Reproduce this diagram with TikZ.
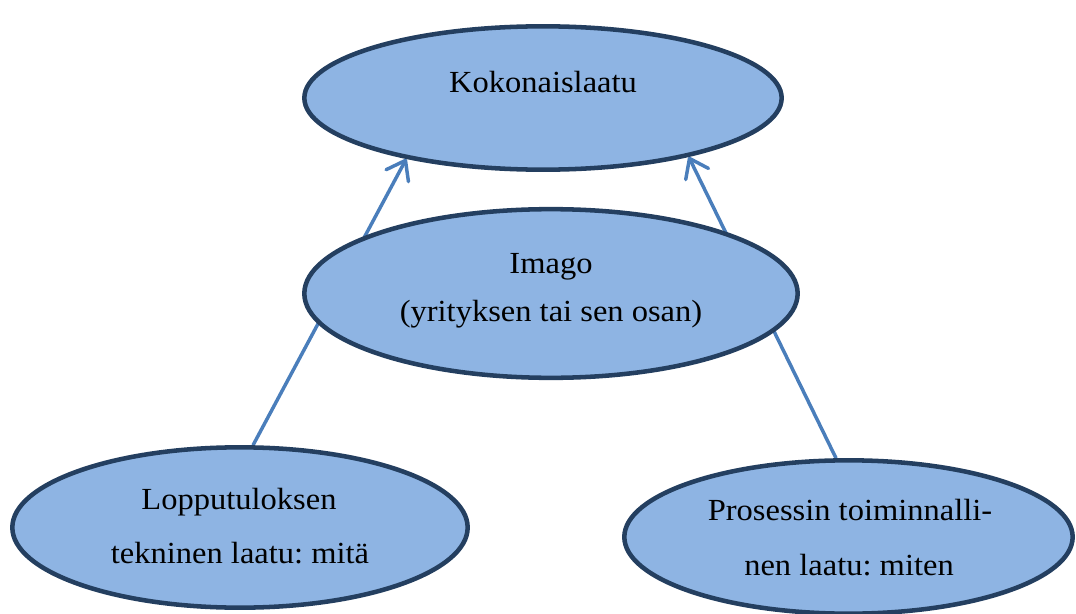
\documentclass[tikz,border=0pt]{standalone}
\usepackage{fontspec}
\setmainfont{Liberation Serif}
\newfontfamily\tnr[FakeStretch=1.06]{Liberation Serif}
\usetikzlibrary{shapes.geometric,arrows.meta}
\definecolor{ovalfill}{HTML}{8EB4E3}
\definecolor{ovalline}{HTML}{243F60}
\definecolor{conn}{HTML}{4A7EBB}
\pgfdeclarelayer{bg}
\pgfsetlayers{bg,main}
\frenchspacing
\begin{document}
\begin{tikzpicture}[x=0.75pt,y=-0.75pt,
  oval/.style={ellipse,draw=ovalline,fill=ovalfill,line width=3.4pt,inner sep=0pt},
  txt/.style={anchor=base,inner sep=0pt,font=\tnr\fontsize{23pt}{27pt}\selectfont},
  conarrow/.style={draw=conn,line width=2.6pt,-{Straight Barb[round,length=13pt,width=19pt]}}]
\useasboundingbox (0,0) rectangle (1076,614);
\node[oval,minimum width=358pt,minimum height=107.5pt] (K) at (543,98) {};
\node[oval,minimum width=370pt,minimum height=126.5pt] (I) at (551,293.5) {};
\node[oval,minimum width=341.5pt,minimum height=120.25pt] (L) at (240,527.5) {};
\node[oval,minimum width=336.25pt,minimum height=115pt] (P) at (848.5,537) {};
\node[txt] (tK) at (543,92) {Kokonaislaatu};
\node[txt] (tI1) at (551,273.3) {Imago};
\node[txt] (tI2) at (551,321.7) {(yrityksen tai sen osan)};
\node[txt] (tL1) at (239,509) {Lopputuloksen};
\node[txt] (tL2) at (240,563) {tekninen laatu: mitä};
\node[txt] (tP1) at (850,520) {Prosessin toiminnalli-};
\node[txt] (tP2) at (849,575) {nen laatu: miten};
\begin{pgfonlayer}{bg}
\draw[conarrow] (L.81.7) -- (K.204);
\draw[conarrow] (P.99.7) -- (K.338);
\end{pgfonlayer}
\end{tikzpicture}
\end{document}
